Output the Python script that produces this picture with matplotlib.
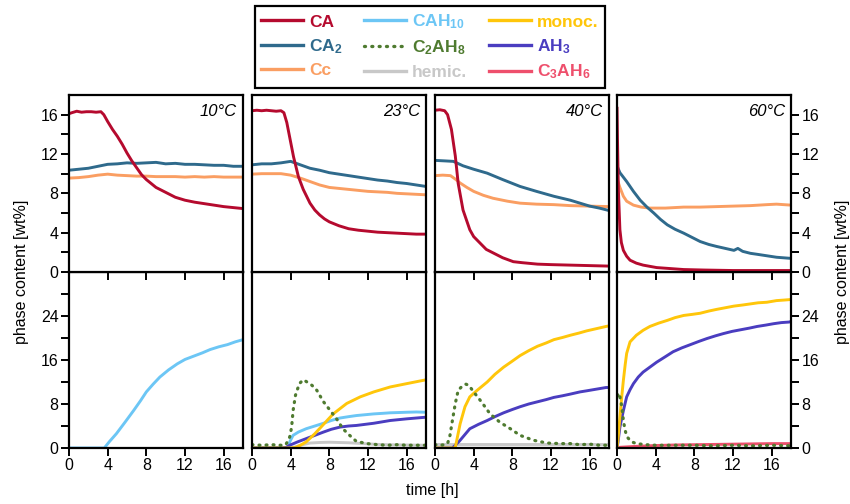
import matplotlib
matplotlib.use('Agg')
import matplotlib.pyplot as plt
from matplotlib.lines import Line2D
from matplotlib.ticker import MultipleLocator, FixedLocator

plt.rcParams['font.family'] = ['Liberation Sans', 'DejaVu Sans']
plt.rcParams['mathtext.fontset'] = 'custom'
plt.rcParams['mathtext.rm'] = 'Liberation Sans'
plt.rcParams['mathtext.bf'] = 'Liberation Sans:bold'
plt.rcParams['mathtext.it'] = 'Liberation Sans:italic'

# ---------------- data ----------------
temps = ['10°C', '23°C', '40°C', '60°C']

# 10 °C anhydrous phases
t_CA_10 = [0, 0.3, 0.8, 1.3, 1.8, 2.3, 2.8, 3.3, 3.6, 4, 4.5, 5, 5.5, 6, 6.5, 7, 7.5, 8, 8.5, 9, 10, 11, 12, 13, 14, 15, 16, 17, 18]
CA_10 = [16.1, 16.2, 16.35, 16.25, 16.3, 16.3, 16.25, 16.3, 16.0, 15.3, 14.5, 13.8, 13.0, 12.1, 11.3, 10.6, 9.9, 9.4, 9.0, 8.6, 8.1, 7.6, 7.3, 7.1, 6.95, 6.8, 6.65, 6.55, 6.45]
t_h = [0, 1, 2, 3, 4, 5, 6, 7, 8, 9, 10, 11, 12, 13, 14, 15, 16, 17, 18]
CA2_10 = [10.35, 10.45, 10.55, 10.75, 10.95, 11.0, 11.1, 11.05, 11.1, 11.15, 11.0, 11.05, 10.95, 10.95, 10.9, 10.85, 10.85, 10.75, 10.75]
Cc_10 = [9.55, 9.6, 9.7, 9.85, 9.95, 9.85, 9.8, 9.75, 9.75, 9.7, 9.7, 9.7, 9.65, 9.7, 9.65, 9.7, 9.65, 9.65, 9.65]

# 23 °C anhydrous phases
t_CA_23 = [0, 0.5, 1, 1.5, 2, 2.5, 3, 3.3, 3.6, 4, 4.3, 4.8, 5.3, 6, 6.5, 7, 7.5, 8, 9, 10, 11, 12, 13, 14, 15, 16, 17, 18]
CA_23 = [16.4, 16.45, 16.4, 16.45, 16.4, 16.35, 16.4, 16.2, 15.2, 13.2, 11.7, 9.7, 8.4, 7.0, 6.3, 5.8, 5.4, 5.1, 4.7, 4.4, 4.25, 4.15, 4.05, 4.0, 3.95, 3.9, 3.85, 3.85]
CA2_23 = [10.9, 11.0, 11.0, 11.1, 11.25, 10.9, 10.55, 10.35, 10.1, 9.95, 9.8, 9.65, 9.5, 9.35, 9.25, 9.1, 9.0, 8.85, 8.7]
Cc_23 = [9.95, 10.0, 10.0, 10.0, 9.85, 9.55, 9.2, 8.85, 8.6, 8.5, 8.4, 8.3, 8.2, 8.15, 8.1, 8.0, 7.95, 7.9, 7.85]

# 40 °C anhydrous phases
t_CA_40 = [0, 0.5, 1, 1.3, 1.7, 2.1, 2.4, 2.9, 3.6, 4.0, 4.7, 5.3, 6.1, 7, 8.1, 9, 10.6, 12, 14, 16, 18]
CA_40 = [16.45, 16.5, 16.4, 16.0, 14.5, 11.8, 9.0, 6.3, 4.3, 3.6, 2.9, 2.3, 1.9, 1.45, 1.05, 0.95, 0.8, 0.75, 0.7, 0.65, 0.6]
t_CA2_40 = [0, 1, 1.9, 2.9, 4, 5.4, 7, 8.8, 10.5, 12.3, 14, 15, 16, 17, 18]
CA2_40 = [11.35, 11.3, 11.25, 10.8, 10.45, 10.05, 9.4, 8.7, 8.2, 7.7, 7.3, 7.0, 6.7, 6.5, 6.25]
t_Cc_40 = [0, 0.8, 1.6, 2.1, 2.6, 3.3, 4, 5, 6, 7.5, 8.8, 10.5, 12.3, 14, 16, 18]
Cc_40 = [9.8, 9.85, 9.8, 9.45, 9.05, 8.6, 8.2, 7.8, 7.5, 7.2, 7.0, 6.9, 6.85, 6.75, 6.7, 6.65]

# 60 °C anhydrous phases
t_CA_60 = [0, 0.05, 0.14, 0.3, 0.45, 0.66, 1.0, 1.35, 2.0, 2.7, 4.1, 5.5, 6.9, 9, 12, 15, 18]
CA_60 = [16.8, 13.5, 8.4, 4.3, 3.0, 2.2, 1.6, 1.2, 0.9, 0.7, 0.45, 0.35, 0.25, 0.2, 0.15, 0.15, 0.15]
t_CA2_60 = [0, 0.3, 1, 1.7, 2.4, 3.1, 3.8, 4.5, 5.2, 6, 6.9, 7.8, 8.6, 9.5, 10.3, 11.2, 12.1, 12.5, 13, 13.8, 14.5, 15.5, 16.5, 17.8, 18]
CA2_60 = [10.8, 10.1, 9.2, 8.2, 7.3, 6.6, 6.0, 5.35, 4.8, 4.35, 3.95, 3.5, 3.1, 2.8, 2.6, 2.4, 2.2, 2.4, 2.1, 1.9, 1.8, 1.65, 1.5, 1.4, 1.4]
t_Cc_60 = [0, 0.3, 0.66, 1.0, 1.7, 2.5, 3.4, 5, 6.9, 8.6, 10.3, 12, 13.8, 15.5, 16.5, 18]
Cc_60 = [9.5, 8.6, 7.7, 7.2, 6.8, 6.6, 6.5, 6.5, 6.6, 6.6, 6.65, 6.7, 6.75, 6.85, 6.9, 6.8]

# 10 °C hydrates
t_CAH10_10 = [0, 1, 2, 3, 3.65, 4.2, 4.9, 5.8, 6.7, 7.4, 8.0, 8.7, 9.4, 10.3, 11.2, 12.0, 12.9, 13.8, 14.6, 15.5, 16.4, 17.2, 18]
CAH10_10 = [0, 0, 0, 0, 0, 1.2, 2.6, 4.7, 6.85, 8.6, 10.2, 11.6, 12.9, 14.2, 15.3, 16.1, 16.7, 17.3, 17.9, 18.4, 18.8, 19.3, 19.7]

# 23 °C hydrates
t_C2AH8_23 = [0, 1, 2, 3, 3.5, 3.9, 4.1, 4.25, 4.5, 4.9, 5.3, 5.6, 6.2, 6.7, 7.4, 8.1, 8.75, 9.4, 10.1, 10.8, 11.9, 13, 14, 15, 16, 17, 18]
C2AH8_23 = [0.6, 0.5, 0.6, 0.5, 0.6, 2.0, 3.8, 6.8, 9.6, 11.7, 12.4, 12.1, 11.4, 10.5, 8.4, 6.8, 5.3, 3.5, 2.3, 1.2, 0.8, 0.6, 0.5, 0.6, 0.5, 0.5, 0.5]
t_CAH10_23 = [0, 1, 2, 3, 3.8, 3.9, 4.25, 4.8, 5.6, 6.5, 7.4, 8.2, 9.1, 10, 10.8, 11.7, 12.6, 13.5, 14.3, 15.2, 16, 17, 18]
CAH10_23 = [0, 0, 0, 0, 0, 1.1, 2.3, 2.9, 3.5, 4.0, 4.5, 5.0, 5.45, 5.7, 5.9, 6.05, 6.2, 6.3, 6.4, 6.45, 6.5, 6.55, 6.5]
t_monoc_23 = [0, 1, 2, 3, 4, 4.5, 5, 5.6, 6.5, 7.4, 8.4, 9.8, 11.2, 12.6, 14.3, 16, 18]
monoc_23 = [0, 0, 0, 0, 0, 0.1, 0.5, 1.1, 2.6, 4.3, 6.2, 8.1, 9.3, 10.2, 11.1, 11.7, 12.4]
t_AH3_23 = [0, 1, 2, 3, 3.5, 3.9, 4.7, 5.6, 6.5, 7.4, 8.2, 9.1, 10, 10.8, 12.6, 14.3, 16, 18]
AH3_23 = [0, 0, 0, 0, 0.1, 0.5, 1.1, 1.7, 2.3, 2.9, 3.4, 3.8, 4.0, 4.1, 4.5, 5.0, 5.3, 5.6]
t_hemic_23 = [0, 2, 4, 4.5, 5, 6, 7, 8, 9, 10, 11, 12, 13, 14, 16, 18]
hemic_23 = [0, 0, 0, 0.2, 0.5, 0.9, 1.0, 1.05, 1.0, 0.95, 0.85, 0.75, 0.65, 0.6, 0.55, 0.5]

# 40 °C hydrates
t_C2AH8_40 = [0, 0.5, 1, 1.3, 1.55, 1.8, 2.1, 2.4, 2.9, 3.2, 3.5, 4.0, 4.8, 5.7, 6.7, 7.8, 8.8, 10.2, 11.6, 13, 14, 15, 16, 17, 18]
C2AH8_40 = [0.6, 0.5, 0.6, 0.8, 2.3, 5.0, 8.1, 10.5, 11.4, 11.6, 11.4, 10.2, 8.4, 6.2, 4.7, 3.5, 2.3, 1.4, 0.9, 0.8, 0.8, 0.6, 0.7, 0.5, 0.5]
t_monoc_40 = [0, 1, 2, 2.1, 2.6, 3.1, 3.6, 4.3, 5.4, 6.2, 7.1, 8, 8.8, 9.7, 10.6, 11.5, 12.3, 13.2, 14, 14.9, 15.7, 16.7, 17.7, 18]
monoc_40 = [0, 0, 0, 0.1, 4.4, 7.5, 9.3, 10.4, 12.0, 13.4, 14.7, 15.8, 16.8, 17.7, 18.5, 19.1, 19.7, 20.1, 20.5, 20.9, 21.3, 21.7, 22.1, 22.2]
t_AH3_40 = [0, 1, 1.8, 2.5, 3.6, 4.5, 5.4, 6.2, 7.1, 8, 8.8, 9.7, 10.6, 11.5, 12.3, 13.2, 14, 15, 15.7, 16.7, 17.7, 18]
AH3_40 = [0, 0, 0, 1.2, 3.5, 4.3, 5.0, 5.7, 6.4, 7.0, 7.5, 8.0, 8.4, 8.8, 9.2, 9.5, 9.8, 10.2, 10.4, 10.7, 11.0, 11.0]
t_hemic_40 = [0, 18]
hemic_40 = [0.65, 0.65]

# 60 °C hydrates
t_monoc_60 = [0, 0.1, 0.3, 0.5, 0.66, 0.85, 1.0, 1.35, 2.0, 2.7, 3.4, 4.3, 5.2, 6, 6.9, 7.8, 8.6, 9.5, 10.3, 11.2, 12.1, 13, 13.8, 14.6, 15.5, 16.5, 17.3, 18]
monoc_60 = [0, 1.5, 5.6, 9.5, 12.3, 15.2, 17.2, 19.3, 20.5, 21.4, 22.1, 22.7, 23.2, 23.7, 24.1, 24.3, 24.5, 24.9, 25.2, 25.5, 25.8, 26.0, 26.2, 26.4, 26.5, 26.8, 26.9, 27.0]
t_AH3_60 = [0, 0.1, 0.3, 0.66, 1.0, 1.35, 1.7, 2.2, 2.7, 3.4, 4.1, 5, 5.8, 6.7, 7.6, 8.5, 9.3, 10.2, 11, 11.9, 12.8, 13.7, 14.5, 15.4, 16.2, 17, 17.8, 18]
AH3_60 = [0, 1.0, 3.8, 6.8, 9.3, 10.6, 11.7, 12.9, 13.8, 14.7, 15.6, 16.6, 17.5, 18.2, 18.8, 19.4, 19.9, 20.4, 20.8, 21.2, 21.5, 21.8, 22.1, 22.35, 22.6, 22.8, 22.9, 23.0]
t_C2AH8_60 = [0.05, 0.15, 0.3, 0.5, 0.66, 0.8, 0.93, 1.1, 1.35, 1.7, 2.0, 3, 4, 6, 8, 10, 12, 14, 16, 18]
C2AH8_60 = [9.5, 10.0, 9.3, 7.5, 5.0, 3.6, 2.6, 1.9, 1.4, 1.0, 0.8, 0.6, 0.5, 0.5, 0.5, 0.4, 0.5, 0.4, 0.5, 0.4]
t_C3AH6_60 = [0, 2, 4, 6, 8, 10, 12, 14, 16, 18]
C3AH6_60 = [0.1, 0.3, 0.45, 0.55, 0.6, 0.65, 0.7, 0.75, 0.8, 0.8]

# axis ticks
x_ticks = [0, 4, 8, 12, 16]
top_yticks = [0, 4, 8, 12, 16]
top_yminor = [2, 6, 10, 14]
bot_yticks = [0, 8, 16, 24]
bot_yminor = [4, 12, 20, 28]

# ---------------- styles ----------------
colors = {
    'CA': '#B50A2E', 'CA2': '#2F6A8C', 'Cc': '#FA9E62',
    'CAH10': '#6CC6F5', 'C2AH8': '#4F7B30', 'hemic': '#C8C8C8',
    'monoc': '#FFC60A', 'AH3': '#4A3DC0', 'C3AH6': '#EE4F6C',
}
labels = {
    'CA': 'CA', 'CA2': r'CA$_\mathbf{2}$', 'Cc': 'Cc',
    'CAH10': r'CAH$_\mathbf{10}$', 'C2AH8': r'C$_\mathbf{2}$AH$_\mathbf{8}$', 'hemic': 'hemic.',
    'monoc': 'monoc.', 'AH3': r'AH$_\mathbf{3}$', 'C3AH6': r'C$_\mathbf{3}$AH$_\mathbf{6}$',
}

top_series = [
    [('Cc', t_h, Cc_10), ('CA2', t_h, CA2_10), ('CA', t_CA_10, CA_10)],
    [('Cc', t_h, Cc_23), ('CA2', t_h, CA2_23), ('CA', t_CA_23, CA_23)],
    [('Cc', t_Cc_40, Cc_40), ('CA2', t_CA2_40, CA2_40), ('CA', t_CA_40, CA_40)],
    [('Cc', t_Cc_60, Cc_60), ('CA2', t_CA2_60, CA2_60), ('CA', t_CA_60, CA_60)],
]
bot_series = [
    [('CAH10', t_CAH10_10, CAH10_10)],
    [('hemic', t_hemic_23, hemic_23), ('CAH10', t_CAH10_23, CAH10_23), ('AH3', t_AH3_23, AH3_23),
     ('monoc', t_monoc_23, monoc_23), ('C2AH8', t_C2AH8_23, C2AH8_23)],
    [('hemic', t_hemic_40, hemic_40), ('AH3', t_AH3_40, AH3_40), ('monoc', t_monoc_40, monoc_40),
     ('C2AH8', t_C2AH8_40, C2AH8_40)],
    [('C3AH6', t_C3AH6_60, C3AH6_60), ('AH3', t_AH3_60, AH3_60), ('monoc', t_monoc_60, monoc_60),
     ('C2AH8', t_C2AH8_60, C2AH8_60)],
]

W, H = 850, 504
fig = plt.figure(figsize=(W / 100, H / 100), dpi=100)

lefts = [69, 252, 435, 617]
pw = 174
FS = 11.5
LW = 2.1
DOTS = (0, (0.3, 1.9))


def draw(ax, name, t, v):
    if name == 'C2AH8':
        ax.plot(t, v, color=colors[name], lw=2.3, linestyle=DOTS, dash_capstyle='round')
    else:
        ax.plot(t, v, color=colors[name], lw=LW, solid_capstyle='butt')


for i, l in enumerate(lefts):
    axt = fig.add_axes([l / W, 1 - 272 / H, pw / W, 177 / H], zorder=3)
    axb = fig.add_axes([l / W, 1 - 448 / H, pw / W, 176 / H], zorder=2)
    for name, t, v in top_series[i]:
        draw(axt, name, t, v)
    for name, t, v in bot_series[i]:
        draw(axb, name, t, v)
    for ax in (axt, axb):
        ax.set_xlim(0, 18)
        ax.xaxis.set_major_locator(FixedLocator(x_ticks))
        for s in ax.spines.values():
            s.set_linewidth(1.6)
        ax.tick_params(axis='both', which='both', direction='out', length=5.5, width=1.4,
                       labelsize=FS, pad=2)
    axt.set_ylim(0, 18)
    axt.yaxis.set_major_locator(FixedLocator(top_yticks))
    axt.yaxis.set_minor_locator(FixedLocator(top_yminor))
    axb.set_ylim(0, 32)
    axb.yaxis.set_major_locator(FixedLocator(bot_yticks))
    axb.yaxis.set_minor_locator(FixedLocator(bot_yminor))
    axt.tick_params(axis='x', labelbottom=False)
    for ax in (axt, axb):
        if i == 0:
            ax.tick_params(axis='y', which='both', left=True, right=False, labelleft=True)
        elif i == 3:
            ax.tick_params(axis='y', which='both', left=False, right=True, labelleft=False,
                           labelright=True)
        else:
            ax.tick_params(axis='y', which='both', left=False, right=False, labelleft=False)
    axt.text(0.965, 0.905, temps[i], transform=axt.transAxes, ha='right', va='center',
             style='italic', fontsize=12)

fig.text(22 / W, 1 - 272 / H, 'phase content [wt%]', rotation=90, ha='center', va='center',
         fontsize=FS)
fig.text(842 / W, 1 - 272 / H, 'phase content [wt%]', rotation=90, ha='center', va='center',
         fontsize=FS)
fig.text(432 / W, 1 - 491 / H, 'time [h]', ha='center', va='center', fontsize=FS)

order = ['CA', 'CA2', 'Cc', 'CAH10', 'C2AH8', 'hemic', 'monoc', 'AH3', 'C3AH6']
handles = []
for k in order:
    if k == 'C2AH8':
        h = Line2D([], [], color=colors[k], lw=2.4, linestyle=DOTS, dash_capstyle='round')
    else:
        h = Line2D([], [], color=colors[k], lw=2.4)
    handles.append(h)
leg = fig.legend(handles, [labels[k] for k in order], loc='center',
                 bbox_to_anchor=(430 / W, 1 - 47 / H), ncol=3, frameon=True, fancybox=False,
                 edgecolor='black', framealpha=1, prop={'weight': 'bold', 'size': 12.5},
                 handlelength=2.4, handletextpad=0.35, columnspacing=1.25, labelspacing=0.42,
                 borderpad=0.35)
leg.get_frame().set_linewidth(1.6)
for txt, k in zip(leg.get_texts(), order):
    txt.set_color(colors[k])

fig.savefig('out.png', dpi=100)
